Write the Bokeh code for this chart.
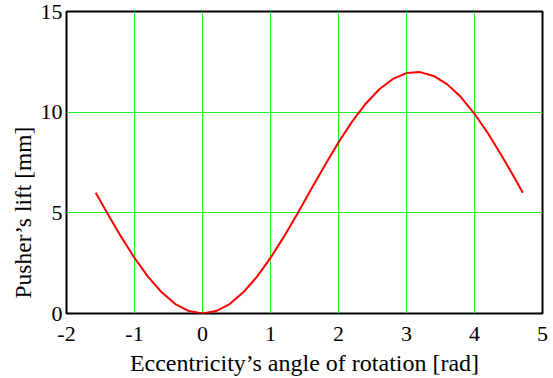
from bokeh.plotting import figure
from bokeh.models import Range1d, FixedTicker, Title
from bokeh.embed import file_html
from bokeh.resources import INLINE

# Data
angle = [-1.57, -1.4, -1.2, -1.0, -0.8, -0.6, -0.4, -0.2, 0.0, 0.2, 0.4, 0.6,
         0.8, 1.0, 1.2, 1.4, 1.6, 1.8, 2.0, 2.2, 2.4, 2.6, 2.8, 3.0, 3.2,
         3.4, 3.6, 3.8, 4.0, 4.2, 4.4, 4.6, 4.71]
lift = [6.0, 4.98, 3.83, 2.76, 1.82, 1.05, 0.47, 0.12, 0.0, 0.12, 0.47, 1.05,
        1.82, 2.76, 3.83, 4.98, 6.18, 7.36, 8.50, 9.53, 10.42, 11.14, 11.65, 11.94, 11.99,
        11.80, 11.38, 10.75, 9.92, 8.94, 7.84, 6.67, 6.0]

x_ticks = [-2, -1, 0, 1, 2, 3, 4, 5]
x_tick_labels = ["-2", "-1", "0", "1", "2", "3", "4", "5"]
y_ticks = [0, 5, 10, 15]
y_tick_labels = ["0", "5", "10", "15"]

x_title = "Eccentricity\u2019s angle of rotation [rad]"
y_title = "Pusher\u2019s lift [mm]"

FONT = "Liberation Serif"

p = figure(width=553, height=378, output_backend="svg", toolbar_location=None,
           x_range=Range1d(x_ticks[0], x_ticks[-1]), y_range=Range1d(y_ticks[0], y_ticks[-1]),
           min_border_left=66, min_border_right=11, min_border_top=11, min_border_bottom=65)

p.background_fill_color = "white"
p.border_fill_color = "white"
p.outline_line_color = "black"
p.outline_line_width = 2

for ax, ticks, labels in ((p.xaxis[0], x_ticks, x_tick_labels), (p.yaxis[0], y_ticks, y_tick_labels)):
    ax.ticker = FixedTicker(ticks=ticks)
    ax.major_label_overrides = {t: s for t, s in zip(ticks, labels)}
    ax.axis_line_color = None
    ax.major_tick_line_color = None
    ax.minor_tick_line_color = None
    ax.major_tick_out = 0
    ax.major_tick_in = 0
    ax.minor_tick_out = 0
    ax.minor_tick_in = 0
    ax.major_label_text_font = FONT
    ax.major_label_text_font_size = "22px"
    ax.major_label_text_color = "black"

p.xaxis.major_label_standoff = 13
p.xaxis.axis_label = x_title
p.xaxis.axis_label_standoff = 6
p.xaxis.axis_label_text_font = FONT
p.xaxis.axis_label_text_font_size = "24px"
p.xaxis.axis_label_text_font_style = "normal"
p.xaxis.axis_label_text_color = "black"

p.yaxis.major_label_standoff = 4

p.add_layout(Title(text=y_title, align="left", offset=15, standoff=4,
                   text_font=FONT, text_font_size="23.5px", text_font_style="normal",
                   text_color="black"), "left")

p.xgrid.ticker = FixedTicker(ticks=x_ticks)
p.ygrid.ticker = FixedTicker(ticks=y_ticks)
for g in (p.xgrid, p.ygrid):
    g.grid_line_color = "#22ee22"
    g.grid_line_width = 1
    g.grid_line_alpha = 1.0

p.line(angle, lift, line_color="red", line_width=2)

open("out.html", "w").write(file_html(p, INLINE))
